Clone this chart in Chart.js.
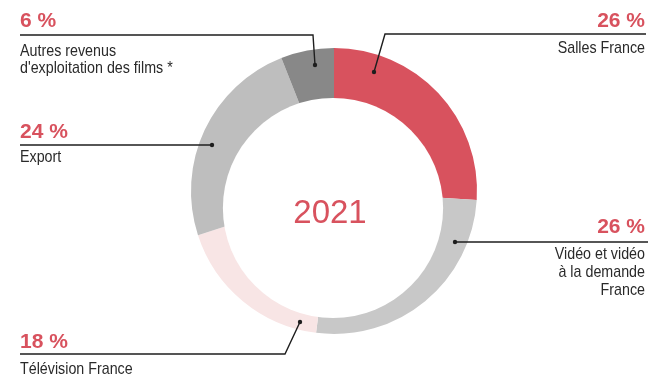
<!DOCTYPE html>
<html>
<head>
<meta charset="utf-8">
<script src="https://cdn.jsdelivr.net/npm/chart.js@4"></script>
<style>
  html, body { margin: 0; padding: 0; background: #fff; }
  #wrap { width: 648px; height: 376px; position: relative; }
</style>
</head>
<body>
<div id="wrap"><canvas id="revenus"></canvas></div>
<script>
// ===== REVENUS DES FILMS 2021 =====

const categories = ['Salles France', 'Vidéo et vidéo à la demande France', 'Télévision France', 'Export', "Autres revenus d'exploitation des films *"];
const shares = [26, 26, 18, 24, 6];
const labelLines = [
  ['Salles France'],
  ['Vidéo et vidéo', 'à la demande', 'France'],
  ['Télévision France'],
  ['Export'],
  ['Autres revenus', "d'exploitation des films *"]
];
const yearLabel = '2021';

const COLORS = {
  red: '#d8525e', video: '#c8c8c8', tele: '#f8e5e5', export: '#bebebe', autres: '#888888',
  ink: '#1e1e1e', text: '#2a2a2a'
};
const sliceColors = [COLORS.red, COLORS.video, COLORS.tele, COLORS.export, COLORS.autres];

// callout placement: leader path (ends on the dot), percent/text baselines
const callouts = [
  { align: 'right', x: 645, pctY: 27, textY: [53], path: [[646, 34], [385, 34], [374, 72]] },
  { align: 'right', x: 645, pctY: 233, textY: [259, 277, 295], path: [[648, 242], [455, 242]] },
  { align: 'left', x: 20, pctY: 348, textY: [374], path: [[20, 354], [285, 354], [300, 322]] },
  { align: 'left', x: 20, pctY: 138, textY: [162], path: [[20, 145], [212, 145]] },
  { align: 'left', x: 20, pctY: 27, textY: [56, 73], path: [[20, 35], [313, 35], [315, 65]] }
];

// condensed look: squeeze the text horizontally around its anchor
function narrowText(ctx, str, x, y, squeeze) {
  ctx.save();
  ctx.translate(x, y);
  ctx.scale(squeeze, 1);
  ctx.fillText(str, 0, 0);
  ctx.restore();
}

// off-centre white hole turns the pie into an uneven ring
const holePlugin = {
  id: 'hole',
  afterDatasetsDraw(chart) {
    const arc = chart.getDatasetMeta(0).data[0];
    const ctx = chart.ctx;
    const cx = arc.x - 1, cy = arc.y + 17, r = arc.outerRadius * 0.77;
    ctx.save();
    ctx.fillStyle = '#fff';
    ctx.beginPath();
    ctx.arc(cx, cy, r, 0, Math.PI * 2);
    ctx.fill();
    ctx.fillStyle = COLORS.red;
    ctx.font = '33px "Liberation Sans", Arial, sans-serif';
    ctx.textAlign = 'center';
    ctx.textBaseline = 'alphabetic';
    ctx.fillText(yearLabel, cx - 3, 223);
    ctx.restore();
  }
};

const calloutPlugin = {
  id: 'callouts',
  afterDraw(chart) {
    const ctx = chart.ctx;
    ctx.save();
    callouts.forEach((c, i) => {
      // leader line + dot
      ctx.strokeStyle = COLORS.ink;
      ctx.lineWidth = 1.4;
      ctx.beginPath();
      c.path.forEach(([px, py], k) => k ? ctx.lineTo(px, py) : ctx.moveTo(px, py));
      ctx.stroke();
      const [dx, dy] = c.path[c.path.length - 1];
      ctx.fillStyle = COLORS.ink;
      ctx.beginPath();
      ctx.arc(dx, dy, 2.2, 0, Math.PI * 2);
      ctx.fill();

      ctx.textAlign = c.align;
      ctx.textBaseline = 'alphabetic';
      ctx.fillStyle = COLORS.red;
      ctx.font = 'bold 21px "Liberation Sans", Arial, sans-serif';
      ctx.fillText(shares[i] + ' %', c.x, c.pctY);

      ctx.fillStyle = COLORS.text;
      ctx.font = '17px "Liberation Sans", Arial, sans-serif';
      labelLines[i].forEach((line, k) => narrowText(ctx, line, c.x, c.textY[k], 0.84));
    });
    ctx.restore();
  }
};

new Chart(document.getElementById('revenus'), {
  type: 'pie',
  data: {
    labels: categories,
    datasets: [{ data: shares, backgroundColor: sliceColors, borderWidth: 0, hoverOffset: 0 }]
  },
  options: {
    responsive: true, maintainAspectRatio: false, animation: false,
    layout: { padding: { top: 48, bottom: 42, left: 191, right: 171 } },
    plugins: { legend: { display: false }, tooltip: { enabled: false } }
  },
  plugins: [holePlugin, calloutPlugin]
});
</script>
</body>
</html>
